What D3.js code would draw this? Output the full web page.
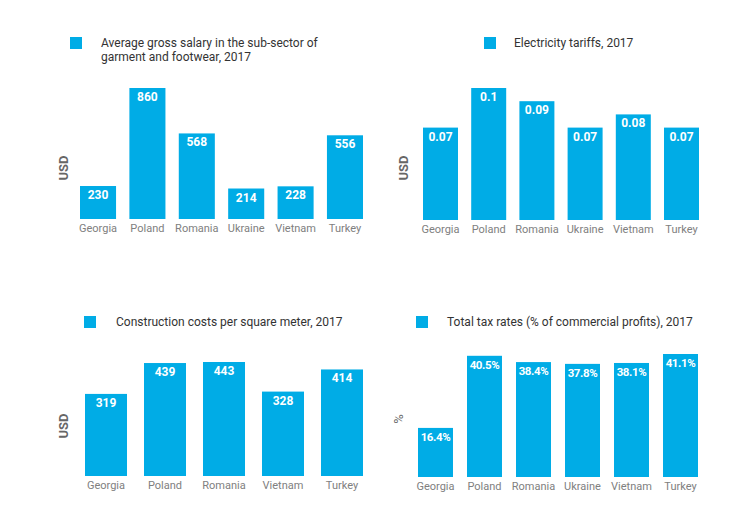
<!DOCTYPE html>
<html>
<head>
<meta charset="utf-8">
<script src="https://cdn.jsdelivr.net/npm/d3@7"></script>
<style>
	body { margin: 0; background: #fff; }
	svg { display: block; font-family: Roboto, "Noto Sans", sans-serif; }
</style>
</head>
<body>
<div id="viz"></div>
<script>
// data
let salaryCountries = ["Georgia", "Poland", "Romania", "Ukraine", "Vietnam", "Turkey"];
let salaryValues = [230, 860, 568, 214, 228, 556];
let salaryTitle = ["Average gross salary in the sub-sector of", "garment and footwear, 2017"];

let tariffCountries = ["Georgia", "Poland", "Romania", "Ukraine", "Vietnam", "Turkey"];
let tariffValues = [0.07, 0.1, 0.09, 0.07, 0.08, 0.07];
let tariffTitle = ["Electricity tariffs, 2017"];

let constrCountries = ["Georgia", "Poland", "Romania", "Vietnam", "Turkey"];
let constrValues = [319, 439, 443, 328, 414];
let constrTitle = ["Construction costs per square meter, 2017"];

let taxCountries = ["Georgia", "Poland", "Romania", "Ukraine", "Vietnam", "Turkey"];
let taxValues = [16.4, 40.5, 38.4, 37.8, 38.1, 41.1];
let taxTitle = ["Total tax rates (% of commercial profits), 2017"];

let blue = "#00ace6";

let svg = d3.select("#viz").append("svg")
	.attr("width", 748)
	.attr("height", 518);

function panel(cats, vals, title, o) {
	let g = svg.append("g");

	let x = d3.scaleBand()
		.domain(cats)
		.range([o.x0, o.x1])
		.paddingInner(o.pad)
		.paddingOuter(0);

	let y = d3.scaleLinear()
		.domain([o.min, d3.max(vals)])
		.range([o.base, o.top]);

	// legend
	g.append("rect")
		.attr("x", o.lx).attr("y", o.ly)
		.attr("width", 12).attr("height", 12)
		.style("fill", blue);

	g.selectAll(".ttl").data(title).enter().append("text")
		.attr("x", o.tx)
		.attr("y", (d, i) => o.ly + 10 + i * 14)
		.style("font-size", "12px")
		.style("fill", "#333")
		.text(d => d);

	// unit label
	g.append("text")
		.attr("transform", "translate(" + o.ux + "," + o.uy + ") rotate(-90)")
		.attr("text-anchor", "middle")
		.style("font-size", "13px")
		.style("font-weight", o.unitBold ? "bold" : "normal")
		.style("fill", "#666")
		.text(o.unit);

	let data = cats.map((c, i) => ({c: c, v: vals[i]}));

	g.selectAll(".bar").data(data).enter().append("rect")
		.attr("x", d => x(d.c))
		.attr("y", d => y(d.v))
		.attr("width", x.bandwidth())
		.attr("height", d => o.base - y(d.v))
		.style("fill", blue);

	g.selectAll(".val").data(data).enter().append("text")
		.attr("x", d => x(d.c) + x.bandwidth() / 2)
		.attr("y", d => y(d.v) + 13)
		.attr("text-anchor", "middle")
		.style("font-size", o.valSize)
		.style("font-weight", "bold")
		.style("letter-spacing", o.valSpacing)
		.style("fill", "#fff")
		.text(d => o.fmt(d.v));

	// category axis
	let axis = g.append("g")
		.attr("transform", "translate(0," + o.base + ")")
		.call(d3.axisBottom(x).tickSize(0).tickPadding(5));
	axis.select(".domain").remove();
	axis.selectAll("text")
		.style("font-family", "Roboto, sans-serif")
		.style("font-size", "11px")
		.style("fill", "#808080");
}

panel(salaryCountries, salaryValues, salaryTitle, {
	x0: 80, x1: 363, pad: 0.27, base: 219, top: 88, min: 18,
	lx: 70, ly: 37, tx: 101, ux: 68, uy: 168, unit: "USD", unitBold: true,
	valSize: "12px", valSpacing: "0px", fmt: d => d
});

panel(tariffCountries, tariffValues, tariffTitle, {
	x0: 423, x1: 699, pad: 0.274, base: 220, top: 88, min: 0,
	lx: 484, ly: 37, tx: 514, ux: 408, uy: 168, unit: "USD", unitBold: true,
	valSize: "12px", valSpacing: "0px", fmt: d => d
});

panel(constrCountries, constrValues, constrTitle, {
	x0: 85, x1: 363, pad: 0.288, base: 476, top: 362, min: 0,
	lx: 84, ly: 316, tx: 116, ux: 68, uy: 426, unit: "USD", unitBold: true,
	valSize: "12px", valSpacing: "0px", fmt: d => d
});

panel(taxCountries, taxValues, taxTitle, {
	x0: 418, x1: 698, pad: 0.286, base: 477, top: 354, min: 0,
	lx: 416, ly: 316, tx: 447, ux: 403, uy: 419, unit: "%", unitBold: false,
	valSize: "11.5px", valSpacing: "-0.4px", fmt: d => d.toFixed(1) + "%"
});
</script>
</body>
</html>
